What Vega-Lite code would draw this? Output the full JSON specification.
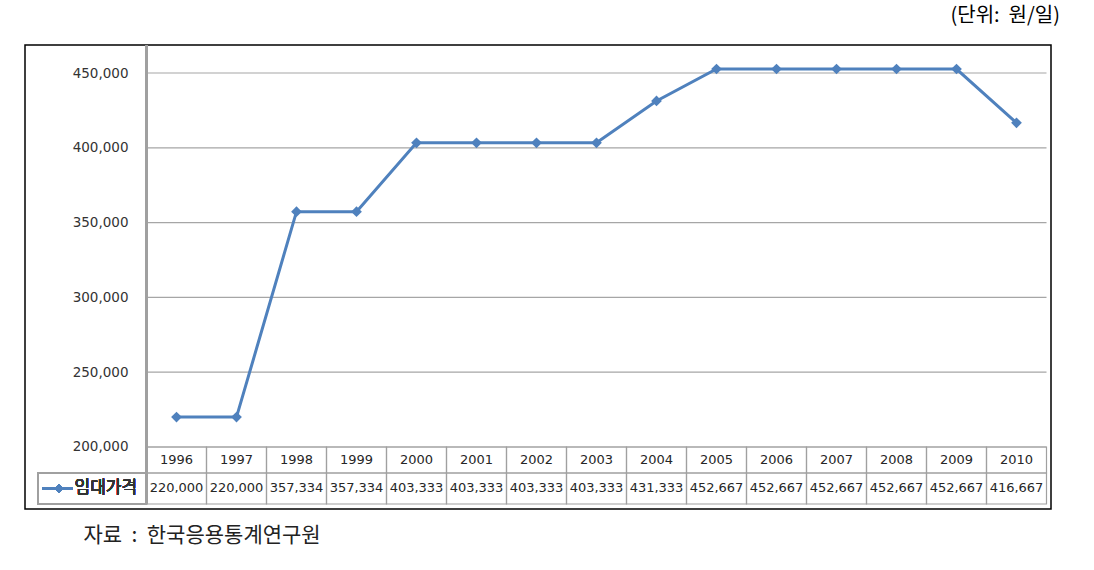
{
  "$schema": "https://vega.github.io/schema/vega-lite/v6.json",
  "width": 1026,
  "height": 464,
  "autosize": {"type": "none"},
  "padding": {"left": 25, "top": 45, "right": 43, "bottom": 61},
  "background": "white",
  "config": {
    "numberFormat": ",",
    "view": {"stroke": "#000000", "strokeWidth": 1.5, "fill": "white"},
    "axisY": {"offset": -121, "labelPadding": 18, "ticks": false, "domain": false, "grid": false, "labelFont": "DejaVu Sans", "labelFontSize": 13.5, "labelColor": "#333333"},
    "axisX": {"labels": false, "ticks": false, "domain": false, "grid": false, "titleAnchor": "start", "titleAlign": "left", "titleX": 58, "titleY": 26, "titleBaseline": "middle", "titleFont": "Noto Sans CJK KR", "titleFontSize": 21, "titleFontWeight": "normal", "titleColor": "#222222"}
  },
  "title": {
    "text": "(단위:\u00a0\u00a0원/일)",
    "anchor": "end",
    "frame": "group",
    "dx": 9,
    "offset": 8,
    "baseline": "middle",
    "font": "Noto Sans CJK KR",
    "fontSize": 20,
    "fontWeight": "normal",
    "color": "#000000"
  },
  "datasets": {
    "rent": [
      {"year": 1996, "price": 220000},
      {"year": 1997, "price": 220000},
      {"year": 1998, "price": 357334},
      {"year": 1999, "price": 357334},
      {"year": 2000, "price": 403333},
      {"year": 2001, "price": 403333},
      {"year": 2002, "price": 403333},
      {"year": 2003, "price": 403333},
      {"year": 2004, "price": 431333},
      {"year": 2005, "price": 452667},
      {"year": 2006, "price": 452667},
      {"year": 2007, "price": 452667},
      {"year": 2008, "price": 452667},
      {"year": 2009, "price": 452667},
      {"year": 2010, "price": 416667}
    ],
    "ticks": [
      {"v": 200000}, {"v": 250000}, {"v": 300000}, {"v": 350000}, {"v": 400000}, {"v": 450000}
    ]
  },
  "data": {"name": "rent"},
  "layer": [
    {
      "data": {"name": "ticks"},
      "mark": {"type": "rule", "stroke": "#a6a6a6", "strokeWidth": 1.2},
      "encoding": {
        "y": {"field": "v", "type": "quantitative", "scale": {"domain": [158556, 468717], "nice": false, "zero": false}, "axis": {"values": [200000, 250000, 300000, 350000, 400000, 450000], "labelExpr": "format(datum.value, ',')", "title": null}},
        "x": {"datum": 1995.5, "type": "quantitative", "scale": {"domain": [1993.475, 2010.575], "nice": false, "zero": false}, "axis": {"title": "자료\u00a0\u00a0:\u00a0\u00a0한국응용통계연구원"}},
        "x2": {"datum": 2010.5}
      }
    },
    {
      "mark": {"type": "rect", "fill": null, "stroke": "#a0a0a0", "strokeWidth": 1.2, "width": 60},
      "encoding": {
        "x": {"field": "year", "type": "quantitative", "scale": {"domain": [1993.475, 2010.575], "nice": false, "zero": false}, "axis": {"title": "자료\u00a0\u00a0:\u00a0\u00a0한국응용통계연구원"}},
        "y": {"datum": 200000, "type": "quantitative", "scale": {"domain": [158556, 468717], "nice": false, "zero": false}, "axis": {"values": [200000, 250000, 300000, 350000, 400000, 450000], "labelExpr": "format(datum.value, ',')", "title": null}},
        "y2": {"datum": 182622}
      }
    },
    {
      "mark": {"type": "rect", "fill": null, "stroke": "#a0a0a0", "strokeWidth": 1.2, "width": 60},
      "encoding": {
        "x": {"field": "year", "type": "quantitative", "scale": {"domain": [1993.475, 2010.575], "nice": false, "zero": false}, "axis": {"title": "자료\u00a0\u00a0:\u00a0\u00a0한국응용통계연구원"}},
        "y": {"datum": 182622, "type": "quantitative", "scale": {"domain": [158556, 468717], "nice": false, "zero": false}, "axis": {"values": [200000, 250000, 300000, 350000, 400000, 450000], "labelExpr": "format(datum.value, ',')", "title": null}},
        "y2": {"datum": 161901}
      }
    },
    {
      "mark": {"type": "rect", "fill": null, "stroke": "#a0a0a0", "strokeWidth": 1.2},
      "encoding": {
        "x": {"datum": 1993.692, "type": "quantitative", "scale": {"domain": [1993.475, 2010.575], "nice": false, "zero": false}, "axis": {"title": "자료\u00a0\u00a0:\u00a0\u00a0한국응용통계연구원"}},
        "x2": {"datum": 1995.5},
        "y": {"datum": 182622, "type": "quantitative", "scale": {"domain": [158556, 468717], "nice": false, "zero": false}, "axis": {"values": [200000, 250000, 300000, 350000, 400000, 450000], "labelExpr": "format(datum.value, ',')", "title": null}},
        "y2": {"datum": 161901}
      }
    },
    {
      "mark": {"type": "rule", "stroke": "#a0a0a0", "strokeWidth": 1.5},
      "encoding": {
        "x": {"datum": 1995.5, "type": "quantitative", "scale": {"domain": [1993.475, 2010.575], "nice": false, "zero": false}, "axis": {"title": "자료\u00a0\u00a0:\u00a0\u00a0한국응용통계연구원"}},
        "y": {"datum": 468717, "type": "quantitative", "scale": {"domain": [158556, 468717], "nice": false, "zero": false}, "axis": {"values": [200000, 250000, 300000, 350000, 400000, 450000], "labelExpr": "format(datum.value, ',')", "title": null}},
        "y2": {"datum": 161901}
      }
    },
    {
      "mark": {"type": "text", "font": "DejaVu Sans", "fontSize": 13, "color": "#262626", "align": "center", "baseline": "middle"},
      "encoding": {
        "x": {"field": "year", "type": "quantitative", "scale": {"domain": [1993.475, 2010.575], "nice": false, "zero": false}, "axis": {"title": "자료\u00a0\u00a0:\u00a0\u00a0한국응용통계연구원"}},
        "y": {"datum": 191311, "type": "quantitative", "scale": {"domain": [158556, 468717], "nice": false, "zero": false}, "axis": {"values": [200000, 250000, 300000, 350000, 400000, 450000], "labelExpr": "format(datum.value, ',')", "title": null}},
        "text": {"field": "year", "type": "nominal"}
      }
    },
    {
      "mark": {"type": "text", "font": "DejaVu Sans", "fontSize": 13, "color": "#262626", "align": "center", "baseline": "middle"},
      "encoding": {
        "x": {"field": "year", "type": "quantitative", "scale": {"domain": [1993.475, 2010.575], "nice": false, "zero": false}, "axis": {"title": "자료\u00a0\u00a0:\u00a0\u00a0한국응용통계연구원"}},
        "y": {"datum": 172261, "type": "quantitative", "scale": {"domain": [158556, 468717], "nice": false, "zero": false}, "axis": {"values": [200000, 250000, 300000, 350000, 400000, 450000], "labelExpr": "format(datum.value, ',')", "title": null}},
        "text": {"field": "price", "type": "quantitative", "format": ","}
      }
    },
    {
      "mark": {"type": "line", "stroke": "#4F81BD", "strokeWidth": 3},
      "encoding": {
        "x": {"field": "year", "type": "quantitative", "scale": {"domain": [1993.475, 2010.575], "nice": false, "zero": false}, "axis": {"title": "자료\u00a0\u00a0:\u00a0\u00a0한국응용통계연구원"}},
        "y": {"field": "price", "type": "quantitative", "scale": {"domain": [158556, 468717], "nice": false, "zero": false}, "axis": {"values": [200000, 250000, 300000, 350000, 400000, 450000], "labelExpr": "format(datum.value, ',')", "title": null}}
      }
    },
    {
      "mark": {"type": "point", "shape": "diamond", "filled": true, "size": 115, "color": "#4F81BD", "opacity": 1},
      "encoding": {
        "x": {"field": "year", "type": "quantitative", "scale": {"domain": [1993.475, 2010.575], "nice": false, "zero": false}, "axis": {"title": "자료\u00a0\u00a0:\u00a0\u00a0한국응용통계연구원"}},
        "y": {"field": "price", "type": "quantitative", "scale": {"domain": [158556, 468717], "nice": false, "zero": false}, "axis": {"values": [200000, 250000, 300000, 350000, 400000, 450000], "labelExpr": "format(datum.value, ',')", "title": null}}
      }
    },
    {
      "mark": {"type": "rule", "stroke": "#4F81BD", "strokeWidth": 3},
      "encoding": {
        "x": {"datum": 1993.758, "type": "quantitative", "scale": {"domain": [1993.475, 2010.575], "nice": false, "zero": false}, "axis": {"title": "자료\u00a0\u00a0:\u00a0\u00a0한국응용통계연구원"}},
        "x2": {"datum": 1994.275},
        "y": {"datum": 172261, "type": "quantitative", "scale": {"domain": [158556, 468717], "nice": false, "zero": false}, "axis": {"values": [200000, 250000, 300000, 350000, 400000, 450000], "labelExpr": "format(datum.value, ',')", "title": null}}
      }
    },
    {
      "mark": {"type": "point", "shape": "diamond", "filled": true, "size": 80, "color": "#4F81BD", "opacity": 1},
      "encoding": {
        "x": {"datum": 1994.042, "type": "quantitative", "scale": {"domain": [1993.475, 2010.575], "nice": false, "zero": false}, "axis": {"title": "자료\u00a0\u00a0:\u00a0\u00a0한국응용통계연구원"}},
        "y": {"datum": 172261, "type": "quantitative", "scale": {"domain": [158556, 468717], "nice": false, "zero": false}, "axis": {"values": [200000, 250000, 300000, 350000, 400000, 450000], "labelExpr": "format(datum.value, ',')", "title": null}}
      }
    },
    {
      "mark": {"type": "text", "text": "임대가격", "font": "Noto Sans CJK KR", "fontSize": 17, "fontWeight": "normal", "color": "#333333", "align": "left", "baseline": "middle"},
      "encoding": {
        "x": {"datum": 1994.3, "type": "quantitative", "scale": {"domain": [1993.475, 2010.575], "nice": false, "zero": false}, "axis": {"title": "자료\u00a0\u00a0:\u00a0\u00a0한국응용통계연구원"}},
        "y": {"datum": 172261, "type": "quantitative", "scale": {"domain": [158556, 468717], "nice": false, "zero": false}, "axis": {"values": [200000, 250000, 300000, 350000, 400000, 450000], "labelExpr": "format(datum.value, ',')", "title": null}}
      }
    }
  ]
}
